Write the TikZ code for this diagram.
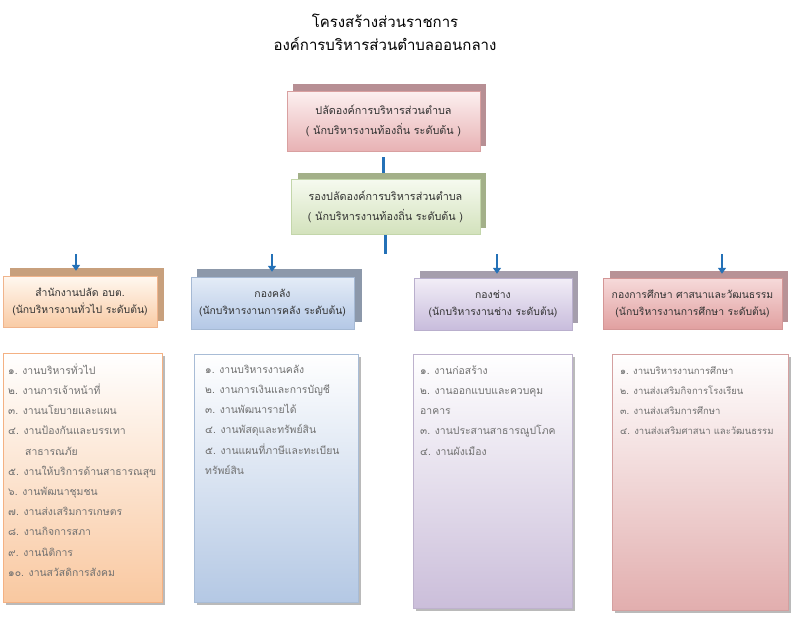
\documentclass[tikz,border=0pt]{standalone}
\usepackage{fontspec}
\newfontfamily\thaifont[Script=Thai]{Loma}
\usetikzlibrary{shadows,arrows.meta}
\pgfdeclarelayer{lines}
\pgfdeclarelayer{backs}
\pgfsetlayers{lines,backs,main}
\definecolor{txt}{RGB}{50,50,50}
\definecolor{listtxt}{RGB}{112,112,112}
\definecolor{arrowc}{RGB}{36,113,183}
\definecolor{pinkback}{RGB}{183,143,148}
\definecolor{pinktop}{RGB}{252,240,240}
\definecolor{pinkbot}{RGB}{232,178,180}
\definecolor{pinkline}{RGB}{217,160,160}
\definecolor{greenback}{RGB}{163,176,137}
\definecolor{greentop}{RGB}{246,250,240}
\definecolor{greenbot}{RGB}{211,226,188}
\definecolor{greenline}{RGB}{195,214,170}
\definecolor{orangeback}{RGB}{200,160,125}
\definecolor{orangetop}{RGB}{255,248,240}
\definecolor{orangebot}{RGB}{249,203,165}
\definecolor{orangeline}{RGB}{240,180,140}
\definecolor{blueback}{RGB}{140,152,170}
\definecolor{bluetop}{RGB}{228,236,247}
\definecolor{bluebot}{RGB}{180,200,230}
\definecolor{blueline}{RGB}{165,185,212}
\definecolor{purpleback}{RGB}{165,158,172}
\definecolor{purpletop}{RGB}{242,238,247}
\definecolor{purplebot}{RGB}{200,188,220}
\definecolor{purpleline}{RGB}{185,175,205}
\definecolor{redback}{RGB}{184,146,150}
\definecolor{redtop}{RGB}{246,218,218}
\definecolor{redbot}{RGB}{225,160,160}
\definecolor{redline}{RGB}{212,150,150}
\definecolor{l1bot}{RGB}{249,200,160}
\definecolor{l1line}{RGB}{244,177,131}
\definecolor{l2bot}{RGB}{180,200,228}
\definecolor{l2line}{RGB}{168,188,214}
\definecolor{l3bot}{RGB}{203,190,218}
\definecolor{l3line}{RGB}{190,178,205}
\definecolor{l4bot}{RGB}{226,174,174}
\definecolor{l4line}{RGB}{212,160,160}
\newcommand{\firststrut}{\rule{0pt}{13pt}}
\begin{document}
\begin{tikzpicture}[x=1pt,y=-1pt,
  backbox/.style={rectangle, draw=none, inner sep=0pt},
  frontbox/.style={rectangle, inner sep=0pt, align=center, text=txt,
    font=\thaifont\fontsize{10.8}{20}\selectfont},
  deptbox/.style={frontbox, font=\thaifont\fontsize{10.4}{17}\selectfont},
  listbox/.style={rectangle, inner sep=0pt, line width=0.6pt,
    drop shadow={shadow xshift=2.5pt, shadow yshift=-2.5pt, fill=black!45, opacity=0.6}},
  listtext/.style={anchor=north west, inner sep=0pt, align=left, text=listtxt,
    font=\thaifont\fontsize{10.4}{20.2}\selectfont},
  link/.style={draw=arrowc, line width=2.6pt},
  arr/.style={link, -{Triangle[width=8pt,length=6pt]}, shorten >=-3pt}
]
\useasboundingbox (0,0) rectangle (800,616);

% title
\node[align=center, font=\thaifont\fontsize{15}{23}\selectfont, text=black] (title) at (385,32)
  {โครงสร้างส่วนราชการ\\องค์การบริหารส่วนตำบลออนกลาง};

% top boxes
\node[frontbox, minimum width=193pt, minimum height=60pt, draw=pinkline,
  top color=pinktop, bottom color=pinkbot] (p) at (383.5,121)
  {ปลัดองค์การบริหารส่วนตำบล\\( นักบริหารงานท้องถิ่น ระดับต้น )};
\node[frontbox, minimum width=189pt, minimum height=55pt, draw=greenline,
  top color=greentop, bottom color=greenbot] (g) at (385.5,206.5)
  {รองปลัดองค์การบริหารส่วนตำบล\\( นักบริหารงานท้องถิ่น ระดับต้น )};

% department boxes
\node[deptbox, minimum width=154pt, minimum height=51pt, draw=orangeline,
  top color=orangetop, bottom color=orangebot] (d1) at (80,301.5)
  {สำนักงานปลัด อบต.\\(นักบริหารงานทั่วไป ระดับต้น)};
\node[deptbox, minimum width=163pt, minimum height=52pt, draw=blueline,
  top color=bluetop, bottom color=bluebot] (d2) at (272.5,303)
  {กองคลัง\\(นักบริหารงานการคลัง ระดับต้น)};
\node[deptbox, minimum width=158pt, minimum height=52pt, draw=purpleline,
  top color=purpletop, bottom color=purplebot] (d3) at (493,304)
  {กองช่าง\\(นักบริหารงานช่าง ระดับต้น)};
\node[deptbox, minimum width=179pt, minimum height=51pt, draw=redline,
  top color=redtop, bottom color=redbot] (d4) at (692.5,303.5)
  {กองการศึกษา ศาสนาและวัฒนธรรม\\(นักบริหารงานการศึกษา ระดับต้น)};

% back boxes
\begin{pgfonlayer}{backs}
\node[backbox, fill=pinkback, minimum width=193pt, minimum height=62pt] (pb) at (389.5,115) {};
\node[backbox, fill=greenback, minimum width=188pt, minimum height=55pt] (gb) at (392,200.5) {};
\node[backbox, fill=orangeback, minimum width=154pt, minimum height=53pt] (d1b) at (87,294.5) {};
\node[backbox, fill=blueback, minimum width=165pt, minimum height=53pt] (d2b) at (279.5,295.5) {};
\node[backbox, fill=purpleback, minimum width=158pt, minimum height=52pt] (d3b) at (499,297) {};
\node[backbox, fill=redback, minimum width=178pt, minimum height=51pt] (d4b) at (699,296.5) {};
\end{pgfonlayer}

% list boxes
\node[listbox, draw=l1line, top color=white, bottom color=l1bot,
  minimum width=159pt, minimum height=249pt] (l1) at (82.5,477.5) {};
\node[listbox, draw=l2line, top color=white, bottom color=l2bot,
  minimum width=164pt, minimum height=248pt] (l2) at (276,478) {};
\node[listbox, draw=l3line, top color=white, bottom color=l3bot,
  minimum width=159pt, minimum height=254pt] (l3) at (492.5,481) {};
\node[listbox, draw=l4line, top color=white, bottom color=l4bot,
  minimum width=176pt, minimum height=256pt] (l4) at (700,482) {};

\node[listtext] (t1) at (8,361) {%
\firststrut ๑. งานบริหารทั่วไป\\
๒. งานการเจ้าหน้าที่\\
๓. งานนโยบายและแผน\\
๔. งานป้องกันและบรรเทา\\
\hspace*{17pt}สาธารณภัย\\
๕. งานให้บริการด้านสาธารณสุข\\
๖. งานพัฒนาชุมชน\\
๗. งานส่งเสริมการเกษตร\\
๘. งานกิจการสภา\\
๙. งานนิติการ\\
๑๐. งานสวัสดิการสังคม};
\node[listtext] (t2) at (205,360) {%
\firststrut ๑. งานบริหารงานคลัง\\
๒. งานการเงินและการบัญชี\\
๓. งานพัฒนารายได้\\
๔. งานพัสดุและทรัพย์สิน\\
๕. งานแผนที่ภาษีและทะเบียน\\
ทรัพย์สิน};
\node[listtext] (t3) at (420,361) {%
\firststrut ๑. งานก่อสร้าง\\
๒. งานออกแบบและควบคุม\\
อาคาร\\
๓. งานประสานสาธารณูปโภค\\
๔. งานผังเมือง};
\node[listtext, font=\thaifont\fontsize{9.5}{20.2}\selectfont] (t4) at (620,361) {%
\firststrut ๑. งานบริหารงานการศึกษา\\
๒. งานส่งเสริมกิจการโรงเรียน\\
๓. งานส่งเสริมการศึกษา\\
๔. งานส่งเสริมศาสนา และวัฒนธรรม};

% connectors
\coordinate (hub) at (384,254);
\coordinate (a1) at (76,254);
\coordinate (a2) at (272,254);
\coordinate (a3) at (497,254);
\coordinate (a4) at (722,254);
\begin{pgfonlayer}{lines}
\draw[link, shorten <=6pt] (p.south) -- (p.south |- gb.north);
\draw[link] (g.south) -- (g.south |- hub);
\end{pgfonlayer}
\draw[arr] (a1) -- (a1 |- d1b.north);
\draw[arr] (a2) -- (a2 |- d2b.north);
\draw[arr] (a3) -- (a3 |- d3b.north);
\draw[arr] (a4) -- (a4 |- d4b.north);
\end{tikzpicture}
\end{document}
